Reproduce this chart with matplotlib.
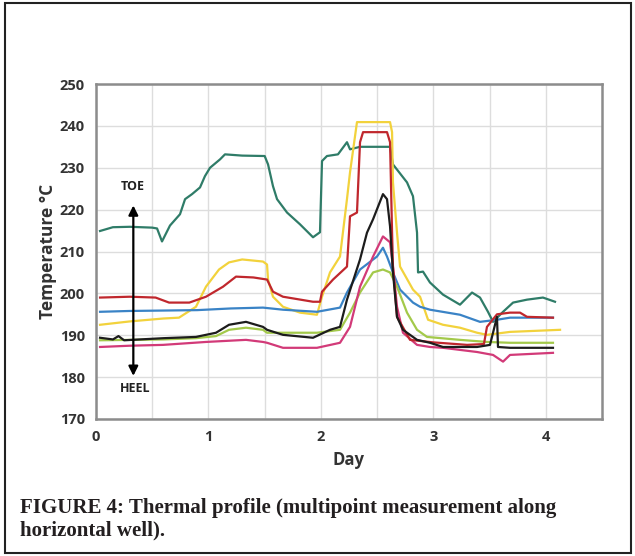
import matplotlib
matplotlib.use("Agg")
import matplotlib.pyplot as plt
from matplotlib.patches import Rectangle

# ---------------- data (days, °C) ----------------
teal_x = [0.036, 0.15, 0.30, 0.50, 0.543, 0.587, 0.658, 0.747, 0.792, 0.854, 0.925, 0.969, 1.014, 1.103, 1.147,
          1.30, 1.50, 1.530, 1.574, 1.610, 1.699, 1.814, 1.930, 1.992, 2.010, 2.054, 2.152, 2.232, 2.259, 2.348,
          2.615, 2.641, 2.766, 2.819, 2.855, 2.864, 2.908, 2.970, 3.086, 3.237, 3.344, 3.415, 3.486, 3.531,
          3.620, 3.709, 3.833, 3.975, 4.082]
teal_y = [214.9, 215.8, 215.9, 215.7, 215.5, 212.4, 216.2, 218.9, 222.5, 223.7, 225.3, 228.0, 230.0, 232.0, 233.2,
          232.9, 232.8, 230.8, 225.6, 222.5, 219.3, 216.5, 213.4, 214.6, 231.6, 232.8, 233.2, 236.1, 234.4, 235.0,
          235.0, 230.8, 226.5, 223.2, 214.5, 205.0, 205.2, 202.6, 199.7, 197.3, 200.2, 199.0, 195.6, 193.2,
          195.6, 197.8, 198.5, 199.0, 198.0]

yellow_x = [0.036, 0.30, 0.60, 0.738, 0.889, 0.978, 1.094, 1.183, 1.30, 1.485, 1.521, 1.530, 1.574, 1.663, 1.814,
            1.965, 2.010, 2.081, 2.170, 2.232, 2.259, 2.321, 2.615, 2.633, 2.641, 2.677, 2.704, 2.819, 2.882,
            2.953, 3.086, 3.237, 3.389, 3.477, 3.682, 4.127]
yellow_y = [192.5, 193.3, 194.0, 194.2, 196.8, 201.6, 205.7, 207.4, 208.1, 207.6, 206.9, 203.3, 199.2, 196.8, 195.4,
            194.9, 199.2, 205.0, 208.8, 222.5, 228.9, 240.9, 240.9, 238.5, 226.5, 214.5, 206.4, 200.9, 199.2,
            193.7, 192.5, 191.8, 190.6, 190.1, 190.8, 191.3]

red_x = [0.036, 0.30, 0.53, 0.65, 0.83, 0.978, 1.130, 1.245, 1.40, 1.521, 1.574, 1.663, 1.930, 1.992, 2.010, 2.108,
         2.232, 2.259, 2.321, 2.348, 2.375, 2.588, 2.615, 2.633, 2.641, 2.677, 2.793, 3.0, 3.3, 3.45, 3.477,
         3.566, 3.682, 3.771, 3.833, 4.064]
red_y = [199.0, 199.2, 199.0, 197.8, 197.8, 199.2, 201.6, 204.0, 203.8, 203.3, 200.4, 199.2, 198.0, 198.0, 200.4, 203.3,
         206.4, 218.4, 219.3, 236.1, 238.5, 238.5, 236.1, 214.5, 206.4, 194.4, 188.9, 188.3, 187.7, 187.9, 192.0,
         195.0, 195.4, 195.4, 194.4, 194.2]

blue_x = [0.036, 0.3, 0.6, 0.9, 1.2, 1.485, 1.663, 1.965, 2.170, 2.232, 2.348, 2.499, 2.552, 2.588, 2.641, 2.704,
          2.819, 2.882, 2.970, 3.237, 3.415, 3.566, 3.682, 4.064]
blue_y = [195.6, 195.8, 195.9, 196.0, 196.4, 196.6, 196.1, 195.6, 196.6, 200.2, 205.7, 208.8, 210.9, 208.8, 205.0, 200.9,
          197.8, 196.8, 196.1, 194.9, 193.2, 193.7, 194.2, 194.2]

black_x = [0.036, 0.151, 0.20, 0.25, 0.6, 0.889, 1.067, 1.183, 1.334, 1.485, 1.521, 1.663, 1.930, 2.081, 2.170, 2.232,
           2.348, 2.410, 2.464, 2.552, 2.588, 2.615, 2.641, 2.677, 2.730, 2.855, 2.970, 3.086, 3.389, 3.504, 3.566,
           3.575, 3.682, 4.064]
black_y = [189.4, 189.0, 189.8, 188.8, 189.3, 189.6, 190.6, 192.5, 193.2, 192.0, 191.3, 190.1, 189.4, 191.3, 192.0, 198.5,
           208.1, 214.5, 217.7, 223.7, 222.5, 216.0, 205.0, 194.4, 191.3, 188.9, 188.2, 187.2, 187.2, 187.7, 194.4,
           187.2, 187.0, 187.0]

lgreen_x = [0.036, 0.6, 0.889, 1.067, 1.183, 1.334, 1.485, 1.521, 1.965, 2.170, 2.259, 2.348, 2.464, 2.552, 2.615,
            2.677, 2.766, 2.855, 2.944, 3.237, 3.477, 3.682, 4.064]
lgreen_y = [188.8, 189.0, 189.3, 189.8, 191.3, 191.8, 191.3, 190.6, 190.6, 191.3, 195.4, 200.2, 205.0, 205.7, 205.0,
            201.6, 195.4, 191.3, 189.6, 188.9, 188.4, 188.2, 188.2]

pink_x = [0.036, 0.3, 0.596, 0.978, 1.334, 1.485, 1.521, 1.663, 1.965, 2.170, 2.259, 2.348, 2.464, 2.552, 2.615, 2.641,
          2.677, 2.730, 2.855, 2.970, 3.086, 3.389, 3.531, 3.620, 3.682, 4.064]
pink_y = [187.2, 187.5, 187.7, 188.4, 188.9, 188.4, 188.2, 187.0, 187.0, 188.2, 192.0, 201.6, 208.8, 213.6, 212.2, 206.4,
          196.8, 190.6, 187.7, 187.2, 187.0, 186.0, 185.3, 183.7, 185.3, 185.8]

y_ticks = [170, 180, 190, 200, 210, 220, 230, 240, 250]
x_ticks = [0, 1, 2, 3, 4]
x_label = "Day"
y_label = "Temperature °C"
caption_1 = "FIGURE 4: Thermal profile (multipoint measurement along"
caption_2 = "horizontal well)."

# ---------------- figure ----------------
W, H = 635, 556
fig = plt.figure(figsize=(W / 100, H / 100), dpi=100)
fig.patch.set_facecolor("white")
ax = fig.add_axes([96 / W, 1 - 419 / H, (602 - 96) / W, (419 - 84) / H])

sans = ["Open Sans", "DejaVu Sans"]

series = [
    (teal_x, teal_y, "#2f7c68"),
    (yellow_x, yellow_y, "#f2d23c"),
    (blue_x, blue_y, "#3a83c6"),
    (lgreen_x, lgreen_y, "#a3c94a"),
    (pink_x, pink_y, "#d23a78"),
    (red_x, red_y, "#c0272d"),
    (black_x, black_y, "#1c1c1c"),
]
for xs, ys, c in series:
    ax.plot(xs, ys, color=c, lw=1.6, solid_joinstyle="round", zorder=3)

ax.set_xlim(0, 4.5)
ax.set_ylim(170, 250)
ax.set_xticks(x_ticks)
ax.set_xticks([0.5, 1.5, 2.5, 3.5], minor=True)
ax.set_yticks(y_ticks)
ax.grid(True, which="both", color="#dddddd", lw=1.0, zorder=0)
ax.tick_params(which="both", length=0)
ax.tick_params(axis="y", pad=8)
ax.tick_params(axis="x", pad=8)
for lab in ax.get_xticklabels() + ax.get_yticklabels():
    lab.set_fontfamily(sans)
    lab.set_fontweight("bold")
    lab.set_fontsize(10.5)
    lab.set_color("#333333")
for sp in ax.spines.values():
    sp.set_color("#8c8c8c")
    sp.set_linewidth(1.8)

ax.set_xlabel(x_label, family=sans, fontweight="bold", fontsize=12, color="#333333", labelpad=5)
ax.set_ylabel(y_label, family=sans, fontweight="bold", fontsize=12.5, color="#333333", labelpad=2)

# TOE / HEEL arrow
ax.annotate("", xy=(0.332, 221.0), xytext=(0.332, 180.3),
            arrowprops=dict(arrowstyle="<|-|>", color="black", lw=1.6, mutation_scale=14,
                            shrinkA=0, shrinkB=0), zorder=5)
ax.text(0.325, 225.6, "TOE", ha="center", va="center", family=sans, fontweight="bold",
        fontsize=9, color="#222222", zorder=5)
ax.text(0.351, 177.4, "HEEL", ha="center", va="center", family=sans, fontweight="bold",
        fontsize=9, color="#222222", zorder=5)

# caption
serif = ["Liberation Serif", "DejaVu Serif"]
fig.text(20 / W, 1 - 513 / H, caption_1, ha="left", va="baseline", family=serif,
         fontweight="bold", fontsize=15, color="#231f20")
fig.text(20 / W, 1 - 535 / H, caption_2, ha="left", va="baseline", family=serif,
         fontweight="bold", fontsize=15, color="#231f20")

# outer border
fig.patches.append(Rectangle((5 / W, 3 / H), (631 - 5) / W, (553 - 3) / H, transform=fig.transFigure,
                             fill=False, edgecolor="#222222", lw=1.5))

fig.savefig("out.png", dpi=100)
